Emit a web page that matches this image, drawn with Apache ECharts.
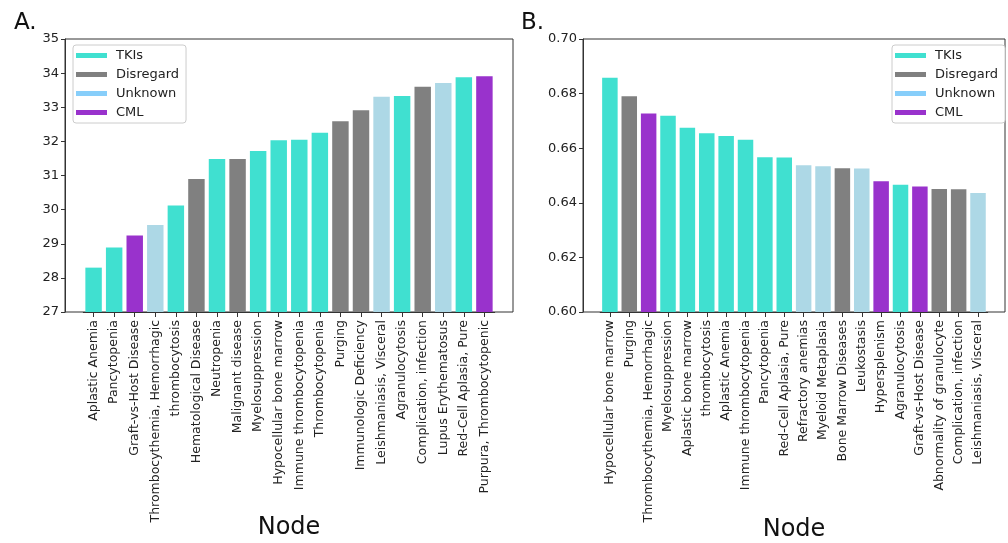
<!DOCTYPE html>
<html>
<head>
<meta charset="utf-8">
<script src="https://cdn.jsdelivr.net/npm/echarts@6/dist/echarts.min.js"></script>
<style>
  html, body { margin: 0; padding: 0; background: #fff; }
  #chart { width: 1008px; height: 543px; }
</style>
</head>
<body>
<div id="chart"></div>
<script>
// 左图 A 数据
const leftNames = [
  "Aplastic Anemia", "Pancytopenia", "Graft-vs-Host Disease", "Thrombocythemia, Hemorrhagic",
  "thrombocytosis", "Hematological Disease", "Neutropenia", "Malignant disease",
  "Myelosuppression", "Hypocellular bone marrow", "Immune thrombocytopenia", "Thrombocytopenia",
  "Purging", "Immunologic Deficiency", "Leishmaniasis, Visceral", "Agranulocytosis",
  "Complication, infection", "Lupus Erythematosus", "Red-Cell Aplasia, Pure", "Purpura, Thrombocytopenic"
];
const leftValues = [
  28.30, 28.89, 29.24, 29.55, 30.12, 30.90, 31.48, 31.48, 31.72, 32.03,
  32.05, 32.25, 32.59, 32.91, 33.31, 33.33, 33.60, 33.71, 33.88, 33.91
];
const leftGroups = [
  "TKIs", "TKIs", "CML", "Unknown", "TKIs", "Disregard", "TKIs", "Disregard", "TKIs", "TKIs",
  "TKIs", "TKIs", "Disregard", "Disregard", "Unknown", "TKIs", "Disregard", "Unknown", "TKIs", "CML"
];

// 右图 B 数据
const rightNames = [
  "Hypocellular bone marrow", "Purging", "Thrombocythemia, Hemorrhagic", "Myelosuppression",
  "Aplastic bone marrow", "thrombocytosis", "Aplastic Anemia", "Immune thrombocytopenia",
  "Pancytopenia", "Red-Cell Aplasia, Pure", "Refractory anemias", "Myeloid Metaplasia",
  "Bone Marrow Diseases", "Leukostasis", "Hypersplenism", "Agranulocytosis",
  "Graft-vs-Host Disease", "Abnormality of granulocyte", "Complication, infection", "Leishmaniasis, Visceral"
];
const rightValues = [
  0.6858, 0.6790, 0.6727, 0.6719, 0.6675, 0.6655, 0.6645, 0.6631, 0.6567, 0.6566,
  0.6538, 0.6534, 0.6527, 0.6526, 0.6479, 0.6466, 0.6460, 0.6451, 0.6450, 0.6436
];
const rightGroups = [
  "TKIs", "Disregard", "CML", "TKIs", "TKIs", "TKIs", "TKIs", "TKIs", "TKIs", "TKIs",
  "Unknown", "Unknown", "Disregard", "Unknown", "CML", "TKIs", "CML", "Disregard", "Disregard", "Unknown"
];

const groups = ["TKIs", "Disregard", "Unknown", "CML"];
const groupColors = {
  TKIs: "#40E0D0",
  Disregard: "#808080",
  Unknown: "#ADD8E6",
  CML: "#9932CC",
};
const legendColors = {
  TKIs: "#40E0D0",
  Disregard: "#808080",
  Unknown: "#87CEFA",
  CML: "#9932CC",
};

const font = "DejaVu Sans";
const textColor = "#222";

// 按分组拆成堆叠系列
const buildSeries = (values, cats, axisIdx, stackName) =>
  groups.map((g) => ({
    name: g,
    type: "bar",
    stack: stackName,
    xAxisIndex: axisIdx,
    yAxisIndex: axisIdx,
    barWidth: "80%",
    itemStyle: { color: groupColors[g] },
    data: values.map((v, i) => (cats[i] === g ? v : "-")),
  }));

const frameAxisX = (gridIndex) => ({
  gridIndex,
  type: "value",
  show: false,
});

const barAxisX = (gridIndex, names) => ({
  gridIndex,
  type: "category",
  data: names,
  axisLine: { show: true, lineStyle: { color: "#333", width: 1 } },
  axisTick: { show: true, alignWithLabel: true, length: 5, lineStyle: { color: "#333", width: 1 } },
  axisLabel: {
    rotate: 90,
    interval: 0,
    margin: 8,
    fontSize: 12.5,
    fontFamily: font,
    color: textColor,
  },
});

const frameAxisY = (gridIndex, min, max, interval, digits) => ({
  gridIndex,
  type: "value",
  min,
  max,
  interval,
  axisLine: { show: true, lineStyle: { color: "#333", width: 1 } },
  axisTick: { show: true, length: 4, lineStyle: { color: "#333" } },
  splitLine: { show: false },
  axisLabel: {
    margin: 6,
    fontSize: 13,
    fontFamily: font,
    color: textColor,
    formatter: (v) => v.toFixed(digits),
  },
});

const hiddenAxisY = (gridIndex, min, max) => ({
  gridIndex,
  type: "value",
  min,
  max,
  show: false,
});

const legendBox = (left, top) => ({
  orient: "vertical",
  left,
  top,
  icon: "rect",
  itemWidth: 31,
  itemHeight: 5,
  itemGap: 6,
  padding: [4, 7, 4, 3],
  backgroundColor: "#fff",
  borderColor: "#ccc",
  borderWidth: 1,
  borderRadius: 3,
  selectedMode: false,
  textStyle: { fontSize: 13, fontFamily: font, color: textColor, padding: [0, 0, 0, 4] },
  data: groups.map((g) => ({ name: g, itemStyle: { color: legendColors[g] } })),
});

// 网格：frame 画外框和 y 轴，bar 网格留出 matplotlib 式的左右边距
const gridBase = { top: 39, height: 273, containLabel: false, outerBoundsMode: "none" };

const option = {
  animation: false,
  backgroundColor: "#fff",
  grid: [
    { ...gridBase, left: 65, width: 448, show: true, borderColor: "#333", borderWidth: 1 },
    { ...gridBase, left: 83.3, width: 411.4 },
    { ...gridBase, left: 583, width: 422, show: true, borderColor: "#333", borderWidth: 1 },
    { ...gridBase, left: 600.2, width: 387.5 },
  ],
  xAxis: [
    frameAxisX(0),
    barAxisX(1, leftNames),
    frameAxisX(2),
    barAxisX(3, rightNames),
  ],
  yAxis: [
    frameAxisY(0, 27, 35, 1, 0),
    hiddenAxisY(1, 27, 35),
    frameAxisY(2, 0.6, 0.7, 0.02, 2),
    hiddenAxisY(3, 0.6, 0.7),
  ],
  legend: [legendBox(73, 45), legendBox(892, 45)],
  graphic: [
    { type: "text", left: 14, top: 12, style: { text: "A.", fontSize: 23, fontFamily: font, fill: "#111" } },
    { type: "text", left: 521, top: 12, style: { text: "B.", fontSize: 23, fontFamily: font, fill: "#111" } },
    { type: "text", x: 289, y: 528, style: { text: "Node", fontSize: 24, fontFamily: font, fill: "#111", align: "center", verticalAlign: "middle" } },
    { type: "text", x: 794, y: 530, style: { text: "Node", fontSize: 24, fontFamily: font, fill: "#111", align: "center", verticalAlign: "middle" } },
  ],
  series: [
    ...buildSeries(leftValues, leftGroups, 1, "left"),
    ...buildSeries(rightValues, rightGroups, 3, "right"),
  ],
};

const myChart = echarts.init(document.getElementById("chart"));
myChart.setOption(option, true);
</script>
</body>
</html>
